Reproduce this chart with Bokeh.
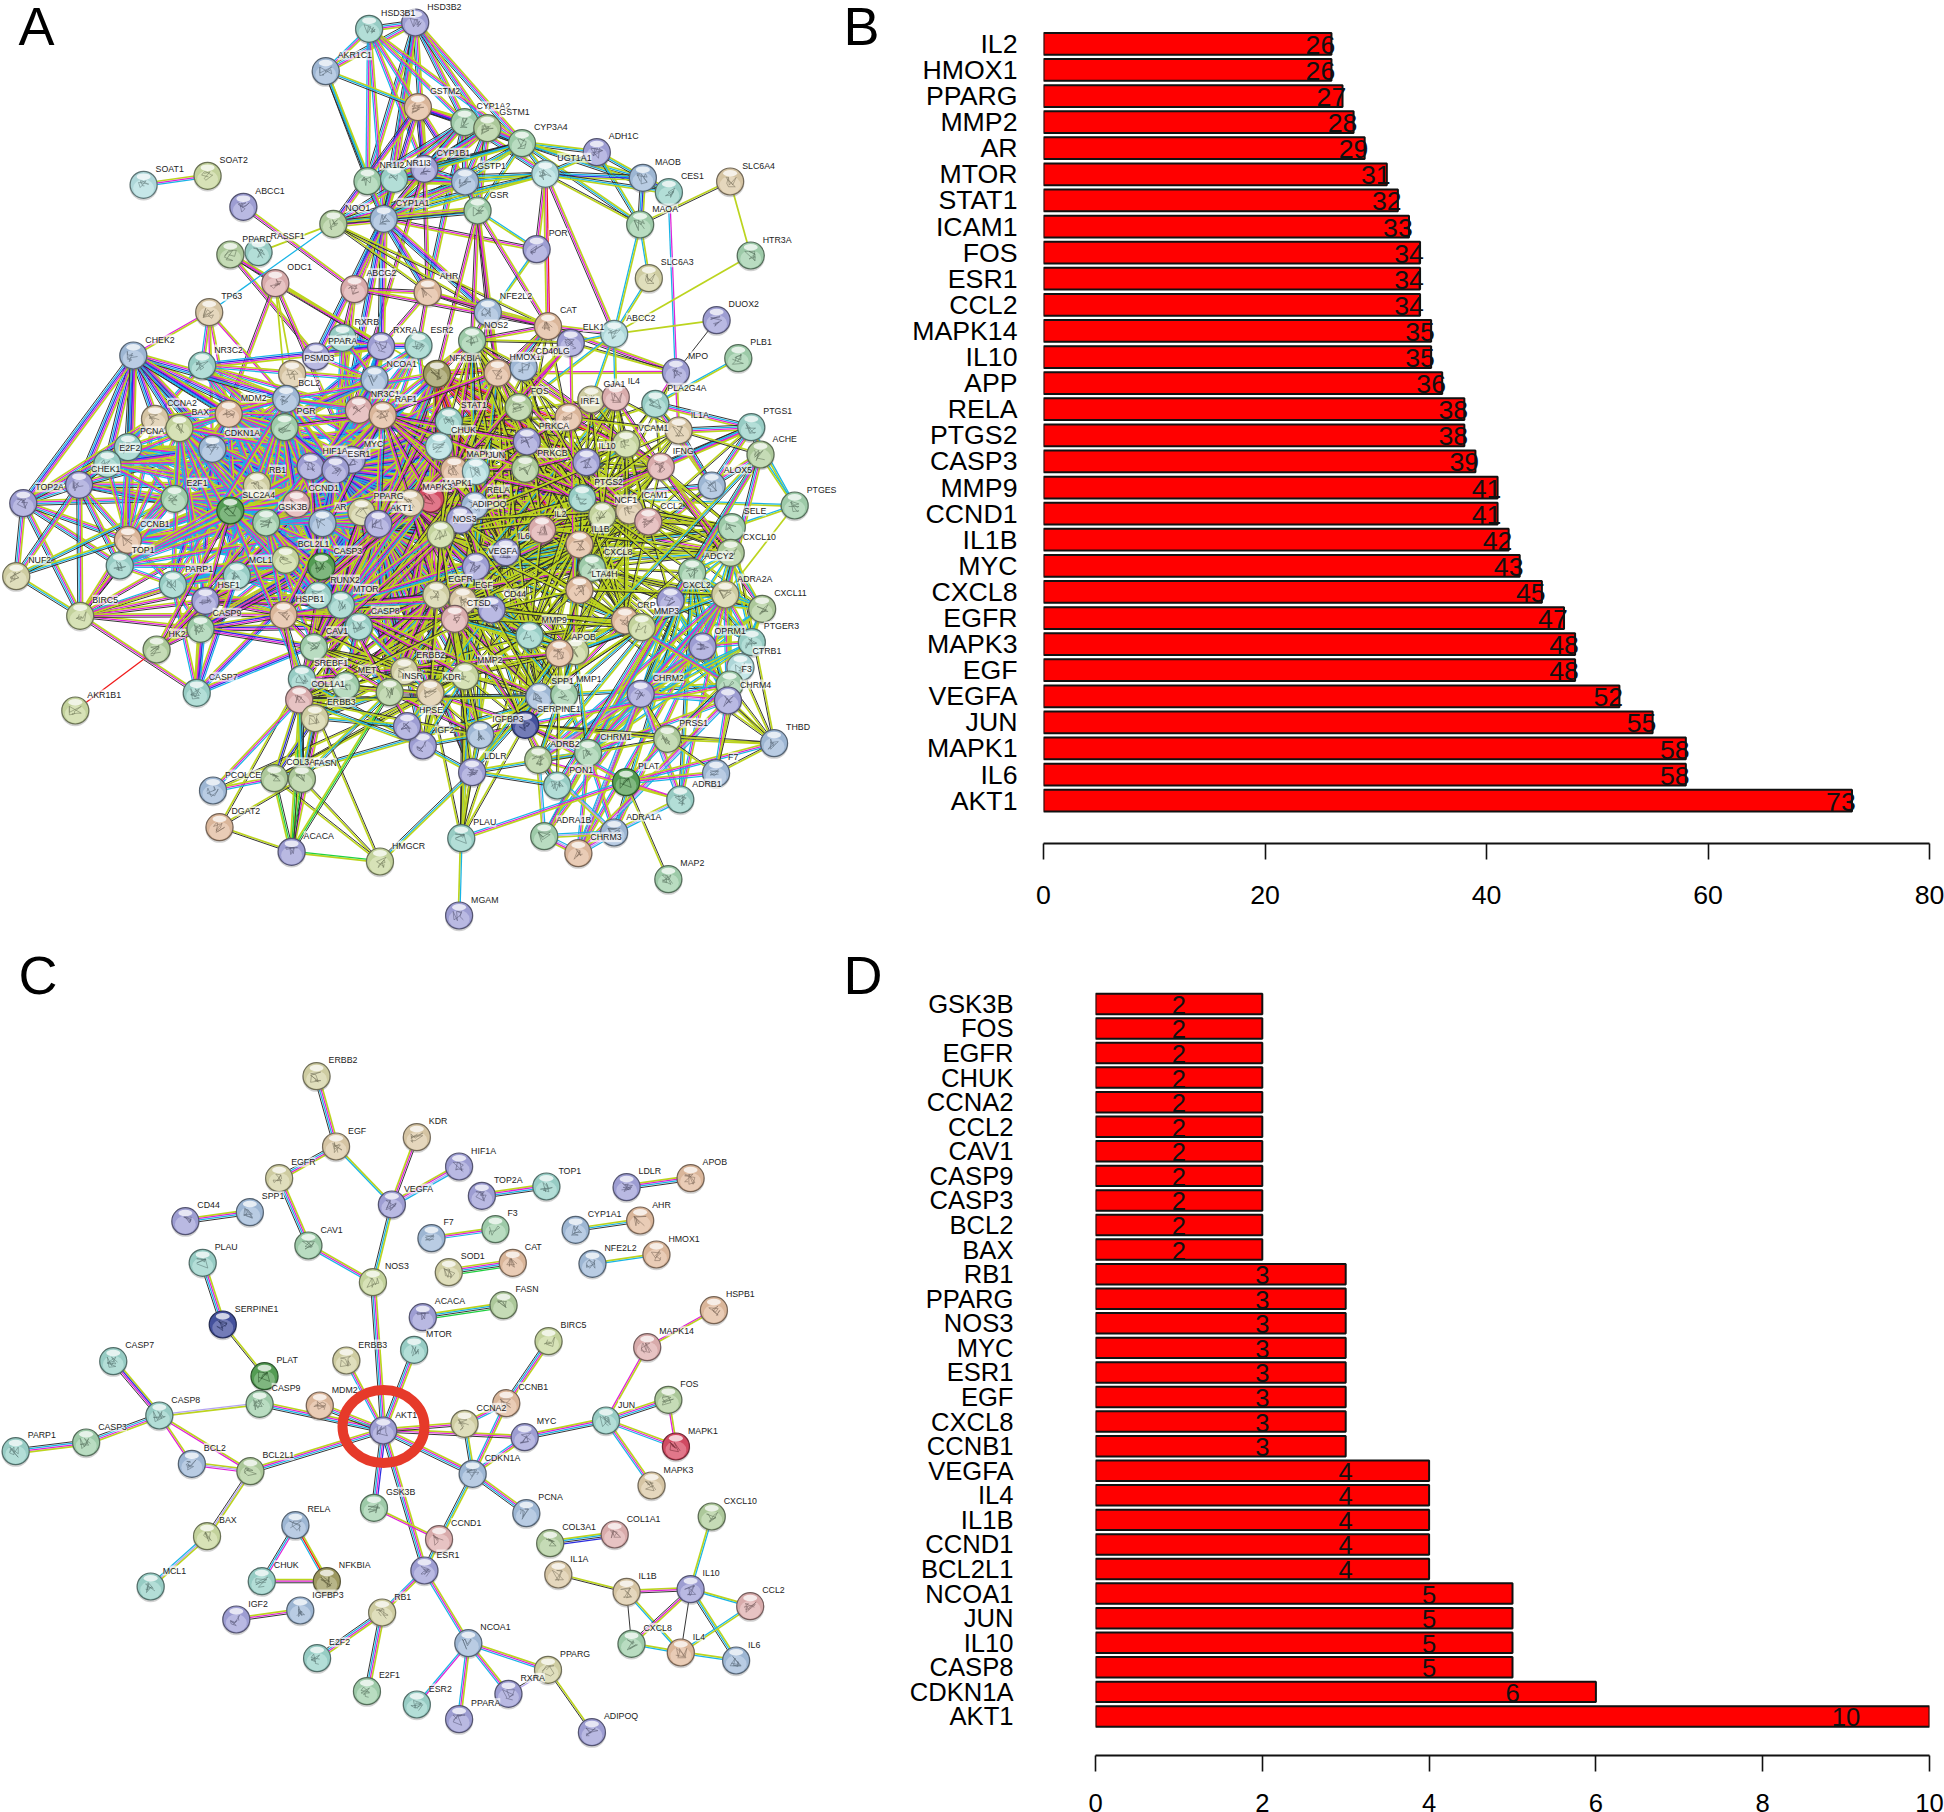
from bokeh.plotting import figure
from bokeh.models import Range1d, FixedTicker, GlobalInlineStyleSheet, Label, Pane
from bokeh.embed import file_html
from bokeh.resources import INLINE
from bokeh.core.properties import value

FONT = "Liberation Sans"

B_GENES = ["IL2","HMOX1","PPARG","MMP2","AR","MTOR","STAT1","ICAM1","FOS","ESR1","CCL2","MAPK14","IL10","APP","RELA",
           "PTGS2","CASP3","MMP9","CCND1","IL1B","MYC","CXCL8","EGFR","MAPK3","EGF","VEGFA","JUN","MAPK1","IL6","AKT1"]
B_VALUES = [26,26,27,28,29,31,32,33,34,34,34,35,35,36,38,38,39,41,41,42,43,45,47,48,48,52,55,58,58,73]
B_TICKS = [0,20,40,60,80]

D_GENES = ["GSK3B","FOS","EGFR","CHUK","CCNA2","CCL2","CAV1","CASP9","CASP3","BCL2","BAX","RB1","PPARG","NOS3","MYC",
           "ESR1","EGF","CXCL8","CCNB1","VEGFA","IL4","IL1B","CCND1","BCL2L1","NCOA1","JUN","IL10","CASP8","CDKN1A","AKT1"]
D_VALUES = [2,2,2,2,2,2,2,2,2,2,2,3,3,3,3,3,3,3,3,4,4,4,4,4,5,5,5,5,6,10]
D_TICKS = [0,2,4,6,8,10]

PALETTE = {"t":"#a3dcd3","b":"#a9c4e3","p":"#a9a9e2","g":"#a9dab5","o":"#b9d8a6","y":"#dedcae","n":"#e6d3b0",
           "k":"#e9b8b8","e":"#ebc4a6","q":"#bce8ea","d":"#4a58a8","G":"#5aa85a","R":"#e0506a","O":"#a8a468","w":"#d2e2a8"}
LINES = {"y":"#bcd41e","k":"#2a2a2a","m":"#e020d8","c":"#18b4e6","b":"#2c2ce0","g":"#20d040","r":"#f01818","l":"#b4a4f0"}
LINE_WIDTHS = {"y":1.7,"k":0.95}

# network A: name, position, colour key
A_UPPER = [("HSD3B1",680,85,"t"),("HSD3B2",765,66,"p"),("AKR1C1",600,212,"b"),("GSTM2",770,320,"e"),("CYP1A2",856,365,"g"),
 ("GSTM1",898,383,"o"),("CYP3A4",962,428,"g"),("ADH1C",1100,455,"p"),("MAOB",1185,532,"b"),("CES1",1233,575,"t"),
 ("MAOA",1180,672,"g"),("SLC6A4",1346,543,"n"),("HTR3A",1384,765,"g"),("SLC6A3",1196,833,"y"),("SOAT1",264,553,"q"),
 ("SOAT2",382,526,"w"),("ABCC1",448,619,"p"),("UGT1A1",1005,520,"q"),("NR1I2",677,542,"g"),("NR1I3",726,535,"t"),
 ("CYP1B1",782,505,"p"),("GSTP1",857,543,"b"),("CYP1A1",707,655,"b"),("GSR",880,630,"g"),("NQO1",614,670,"o"),
 ("POR",989,746,"p"),("PPARD",424,762,"o"),("RASSF1",476,755,"t"),("ODC1",507,848,"k"),("ABCG2",653,866,"k"),
 ("AHR",788,875,"e"),("NFE2L2",899,935,"b"),("CAT",1010,977,"e"),("ELK1",1052,1027,"p"),("ABCC2",1132,1000,"q"),
 ("DUOX2",1321,959,"p"),("PLB1",1361,1073,"g"),("MPO",1246,1115,"p"),("TP63",385,935,"n"),("CHEK2",245,1065,"b"),
 ("NR3C2",372,1095,"t"),("RXRB",631,1012,"t"),("RXRA",702,1037,"p"),("ESR2",771,1035,"t"),("NOS2",870,1020,"g"),
 ("PPARA",582,1068,"p"),("PSMD3",538,1120,"n"),("NCOA1",690,1137,"b"),("NFKBIA",805,1120,"O"),("HMOX1",917,1117,"e"),
 ("CD40LG",965,1100,"b"),("FOS",956,1220,"o"),("IRF1",1048,1250,"e"),("GJA1",1090,1197,"y"),("IL4",1135,1190,"k"),
 ("PLA2G4A",1208,1210,"t"),("IL1A",1251,1290,"n"),("PTGS1",1385,1280,"t"),("ACHE",1402,1362,"o"),("NR3C1",661,1228,"k"),
 ("RAF1",705,1244,"e"),("BCL2",527,1195,"b"),("MDM2",421,1240,"e"),("CCNA2",285,1255,"n"),("BAX",330,1283,"w"),
 ("PGR",524,1280,"g"),("PCNA",235,1340,"t"),("CDKN1A",391,1345,"b"),("E2F2",197,1390,"t"),("STAT1",827,1262,"t"),
 ("CHUK",809,1337,"q"),("PRKCA",971,1323,"p"),("VCAM1",1154,1330,"w"),("IFNG",1218,1398,"k"),("IL10",1081,1385,"p"),
 ("PRKCB",968,1405,"o"),("MAPK14",837,1408,"e"),("JUN",877,1412,"q"),("MYC",648,1378,"p"),("HIF1A",572,1398,"p"),
 ("ESR1",618,1408,"p")]
A_LOWER = [("CHEK1",145,73,"p"),("RB1",473,75,"y"),("ALOX5",1312,75,"b"),("TOP2A",42,128,"p"),("E2F1",321,115,"g"),
 ("SLC2A4",424,150,"G"),("CCND1",546,130,"k"),("GSK3B",490,186,"g"),("MAPK1",793,115,"R"),("MAPK3",756,127,"n"),
 ("PPARG",666,155,"y"),("AR",594,188,"b"),("AKT1",697,190,"p"),("RELA",875,135,"b"),("ADIPOQ",848,178,"p"),
 ("NOS3",812,222,"w"),("PTGS2",1073,113,"t"),("NCF1",1110,165,"w"),("ICAM1",1160,150,"n"),("CCL2",1195,183,"k"),
 ("SELE",1349,200,"g"),("PTGES",1465,135,"g"),("CXCL10",1347,277,"o"),("IL2",999,207,"k"),("IL1B",1068,252,"e"),
 ("IL6",932,275,"p"),("VEGFA",877,318,"p"),("CXCL8",1091,322,"g"),("LTA4H",1068,388,"e"),("ADCY2",1276,335,"g"),
 ("ADRA2A",1337,402,"y"),("CXCL2",1236,420,"p"),("CXCL11",1405,445,"o"),("CRP",1152,480,"e"),("MMP3",1183,500,"w"),
 ("PTGER3",1386,545,"t"),("OPRM1",1295,558,"p"),("CTRB1",1365,620,"q"),("F3",1345,672,"g"),("CHRM4",1342,720,"p"),
 ("CHRM2",1181,700,"p"),("PRSS1",1230,835,"o"),("THBD",1427,848,"b"),("F7",1320,938,"b"),("ADRB1",1254,1017,"t"),
 ("PLAT",1154,965,"G"),("ADRA1A",1132,1116,"b"),("CHRM3",1066,1178,"e"),("ADRA1B",1003,1127,"g"),("PON1",1027,975,"t"),
 ("CHRM1",1084,877,"g"),("ADRB2",992,898,"o"),("MAP2",1232,1256,"g"),("MGAM",846,1365,"p"),("PLAU",850,1133,"t"),
 ("HMGCR",700,1203,"w"),("ACACA",537,1174,"p"),("DGAT2",404,1100,"e"),("PCOLCE",392,990,"b"),("COL3A1",505,953,"o"),
 ("FASN",556,955,"o"),("LDLR",870,935,"p"),("IGF2",779,855,"p"),("HPSE",750,797,"p"),("IGFBP3",885,823,"b"),
 ("SERPINE1",968,793,"d"),("SPP1",994,708,"b"),("MMP1",1040,703,"g"),("KDR",793,697,"n"),("MMP2",857,647,"w"),
 ("ERBB2",745,632,"y"),("INSR",718,695,"o"),("MET",637,675,"g"),("SREBF1",556,655,"t"),("COL1A1",551,717,"k"),
 ("ERBB3",580,773,"y"),("CAV1",578,560,"g"),("MTOR",628,433,"t"),("CASP8",661,498,"t"),("RUNX2",586,405,"t"),
 ("HSPB1",522,463,"e"),("CASP3",592,318,"G"),("BCL2L1",526,298,"w"),("MCL1",436,345,"t"),("PARP1",318,372,"t"),
 ("HSF1",378,421,"p"),("CASP9",369,505,"g"),("HK2",288,567,"o"),("CASP7",362,697,"t"),("AKR1B1",138,750,"w"),
 ("BIRC5",147,466,"w"),("NUF2",29,347,"y"),("TOP1",220,315,"t"),("CCNB1",235,238,"e"),("EGFR",804,403,"y"),
 ("EGF",853,420,"n"),("CTSD",838,475,"k"),("CD44",906,447,"p"),("MMP9",976,525,"t"),("APP",1060,572,"w"),("APOB",1031,578,"e")]
A_HIDDEN_LABELS = ["APP"]

A_EDGES = [
 ("HSD3B2","ymck","HSD3B1 AKR1C1 CYP1A2 CYP3A4 NR1I2 NR1I3 CYP1B1 CYP1A1 GSTM1"),
 ("HSD3B1","ymc","AKR1C1 CYP3A4 CYP1A2 NR1I2 CYP1A1 CYP1B1 GSTM2"),
 ("AKR1C1","yck","GSTM2 NR1I2 CYP1A1"),
 ("GSTM2","ymbk","CYP1A2 GSTM1 CYP3A4 CYP1B1 CYP1A1 GSTP1 NQO1"),
 ("CYP1A2","ymck","GSTM1 CYP3A4 CYP1B1 NR1I2 NR1I3 GSTP1 CYP1A1 UGT1A1 AHR"),
 ("GSTM1","ymck","CYP3A4 CYP1B1 GSTP1 CYP1A1 NQO1 GSR"),
 ("CYP3A4","yck","ADH1C MAOB CES1 UGT1A1 GSTP1 CYP1B1 NR1I2 NR1I3 CYP1A1 MAOA GSR"),
 ("ADH1C","yck","MAOB MAOA UGT1A1"),("MAOB","ybck","MAOA CES1 UGT1A1"),("CES1","yck","UGT1A1"),("CES1","mc","MPO"),
 ("MAOA","yk","SLC6A4 UGT1A1"),("MAOA","yc","ABCC2 SLC6A3"),("SLC6A4","y","HTR3A"),("HTR3A","y","ABCC2"),("SLC6A3","yc","ABCC2"),
 ("UGT1A1","yck","GSTP1 CYP1A1 NR1I3 NQO1"),("UGT1A1","ymk","ABCC2 POR"),("UGT1A1","rmy","CAT"),
 ("POR","ymk","CYP1A1"),("POR","yc","NOS2 GSR"),
 ("GSTP1","ymck","CYP1A1 NQO1 GSR NR1I2 NR1I3 CYP1B1"),("NR1I2","ymck","NR1I3 CYP1A1 CYP1B1"),("NR1I3","ymck","CYP1A1 CYP1B1"),
 ("CYP1B1","ymk","CYP1A1 AHR ESR1"),
 ("CYP1A1","ymbck","NQO1 GSR AHR RXRA ABCG2 ESR1 PPARA NFE2L2"),
 ("NQO1","yk","GSR AHR NFE2L2 CAT"),("GSR","ymk","CAT NFE2L2 NOS2 NFKBIA HMOX1"),
 ("NQO1","y","RASSF1"),("ABCC1","ymk","ABCG2"),("SOAT1","ymc","SOAT2"),
 ("PPARD","ymk","ODC1 RXRA PPARA"),("ODC1","ymk","MYC RXRA CDKN1A"),("ODC1","y","BCL2 PSMD3 NFKBIA"),
 ("TP63","c","NQO1"),("TP63","ym","CHEK2 BCL2 MDM2 CDKN1A"),("TP63","ymc","NR3C2"),("AHR","ymk","ABCG2 ESR2 RXRA NFE2L2 CYP1B1 CAT"),
 ("ABCG2","ymk","CAT ESR1 RXRB"),("NFE2L2","ymk","CAT HMOX1 NOS2 JUN"),("CAT","ymk","HMOX1 MPO NOS2 ABCC2 ELK1 CD40LG"),
 ("DUOX2","y","ABCC2"),("DUOX2","k","MPO"),("PLB1","yc","PLA2G4A"),("MPO","ym","HMOX1 PLA2G4A IL1A CAT"),("MPO","yk","NCF1 ELK1"),
 ("PTGS1","ymck","PLA2G4A ALOX5 PTGS2 ACHE IL1A IFNG"),("PTGES","yc","PTGS1 PTGS2 SELE ACHE"),("PTGES","y","ADRA2A"),
 ("ALOX5","ymck","PTGS2 LTA4H PLA2G4A IL1A ACHE"),("ABCC2","yc","ELK1 GJA1 IL4 FOS"),("PLA2G4A","yk","PTGS2 ALOX5 IL1A IFNG VCAM1 MAPK14"),
 ("RXRA","ymbc","RXRB PPARA PPARG ESR1 NCOA1 NR3C1 AR MYC PGR NR3C2 ESR2"),("RXRB","ymc","PPARA PPARG NCOA1 ESR1"),
 ("NR3C2","ymc","NR3C1 CCNA2 MDM2 BCL2 AR PGR ESR1 NCOA1 HIF1A"),
 ("NCOA1","ymc","ESR1 ESR2 AR PGR NR3C1 PPARG PPARA STAT1 MYC RELA"),("NR3C1","ymc","ESR1 AR PGR HSF1 RAF1 JUN STAT1 MYC"),
 ("ESR2","ymc","ESR1 AR PGR PPARG NOS3 NCOA1 CCND1"),
 ("CHEK2","ymbck","PCNA CDKN1A CCNA2 BAX E2F2 CHEK1 MDM2 MYC RB1 TOP2A CCNB1 BCL2 HIF1A"),
 ("TOP2A","ymck","CHEK1 TOP1 NUF2 BIRC5 CCNB1 E2F1 CCNA2 PCNA"),
 ("CHEK1","ymck","NUF2 BIRC5 CCNB1 E2F1 RB1 PCNA CCNA2 TOP1 CDKN1A E2F2 GSK3B"),
 ("NUF2","yck","BIRC5 CCNB1 E2F1"),("BIRC5","ymk","CCNB1 CASP3 CASP9 E2F1 TOP1 MYC HSF1 AKT1 HSPB1 CASP7"),
 ("CCNB1","ymc","E2F1 CCNA2 E2F2 PCNA CDKN1A RB1 MYC AKT1 TOP1 PARP1 GSK3B CCND1 MDM2 BAX CASP3 BCL2L1 MAPK1 MAPK3 ESR1 HIF1A AR PPARG"),
 ("CCNA2","ymc","E2F1 E2F2 PCNA CDKN1A RB1 MYC CCND1 MDM2 BAX BCL2 ESR1"),
 ("PCNA","ymc","E2F1 E2F2 CDKN1A RB1 MYC CCND1 MDM2 HIF1A TOP1 AKT1 ESR1 AR CASP3 GSK3B"),
 ("CDKN1A","ymbc","E2F1 E2F2 RB1 MYC CCND1 MDM2 BAX BCL2 ESR1 AR GSK3B CASP3 CASP9 STAT1 HIF1A NCOA1 BCL2L1 MCL1 PARP1 AKT1 MAPK1 MAPK3 JUN MAPK14 RELA PPARG MTOR"),
 ("E2F2","ymc","E2F1 RB1 MYC CCND1 MDM2"),("E2F1","ymc","RB1 MYC CCND1 MDM2 CASP3 BCL2 AKT1 BAX AR ESR1 HIF1A GSK3B MAPK1 MAPK3 JUN PPARG MTOR"),
 ("RB1","ymc","MYC CCND1 MDM2 BAX BCL2 AR ESR1 HIF1A GSK3B CASP3 SLC2A4 MAPK1 BCL2L1 AKT1 MAPK3 JUN RELA PPARG"),
 ("MDM2","ymc","BAX BCL2 MYC AKT1 ESR1 AR GSK3B HIF1A CASP3 CCND1 BCL2L1 MCL1 PGR MAPK1 MAPK3 JUN RELA EGFR STAT1 MTOR PPARG"),
 ("BAX","ymc","BCL2 BCL2L1 MCL1 CASP3 CASP9 CASP8 PARP1 MYC AKT1 HSF1 HSPB1"),
 ("BCL2","ymc","BCL2L1 MCL1 CASP3 CASP9 CASP8 PARP1 MYC AKT1 ESR1 HIF1A GSK3B RAF1 PGR NFKBIA STAT1 RELA"),
 ("BCL2L1","ymc","MCL1 CASP3 CASP9 CASP8 PARP1 MYC AKT1 HSPB1 HSF1 STAT1 GSK3B MAPK1 MAPK3 JUN MAPK14 RELA EGFR PPARG"),
 ("MCL1","ymc","CASP3 CASP9 CASP8 PARP1 GSK3B MTOR HK2 HSF1 MYC MAPK1 MAPK3 JUN AKT1 EGFR"),
 ("PARP1","ymc","CASP3 CASP9 CASP8 CASP7 HSF1 TOP1 BIRC5 HSPB1 AKT1 MYC MAPK1 MAPK3 JUN BCL2L1"),
 ("TOP1","ymc","MYC RB1 E2F1 CASP3 AKT1 CCND1 ESR1 HIF1A"),
 ("HSF1","ymk","HSPB1 MTOR AKT1 MYC RUNX2 SLC2A4"),("HK2","r","AKR1B1"),("HK2","ymk","HIF1A AKT1 MYC MCL1 SLC2A4 CASP9"),
 ("CASP7","ymbc","CASP3 CASP9 CASP8 MCL1 PARP1 HSF1"),("CASP9","ybmk","CASP3 CASP8 AKT1 HSPB1 BIRC5 CAV1"),
 ("CASP3","ymbc","CASP8 HSPB1 GSK3B MTOR MYC AKT1 CCND1 HIF1A ESR1 RUNX2 MAPK1 MAPK3 MAPK14 JUN RELA EGFR STAT1 PPARG NFKBIA VEGFA EGF"),
 ("CASP8","ymk","HSPB1 CAV1 RELA NFKBIA CHUK MAPK1 AKT1 MYC"),
 ("SLC2A4","ymc","AKT1 PPARG INSR MTOR SREBF1 HIF1A GSK3B RUNX2 MAPK1 MAPK14 MAPK3 JUN RELA"),
 ("CCND1","ymbc","MYC AKT1 ESR1 GSK3B AR HIF1A PPARG NCOA1 MAPK3 RAF1 STAT1 RELA EGFR MTOR ERBB2 PGR JUN FOS"),
 ("MYC","ymc","AKT1 ESR1 AR HIF1A GSK3B RAF1 RELA STAT1 EGFR MTOR FOS JUN ERBB2 PPARG MAPK14 PTGS2 NFKBIA CHUK VEGFA IL6 IL1B PRKCA"),
 ("HIF1A","ymc","ESR1 AKT1 MTOR GSK3B STAT1 NOS2 NOS3 VEGFA MAPK14 HMOX1 RELA KDR MAPK1 MAPK3 JUN EGFR EGF IL6 CXCL8 PTGS2"),
 ("ESR1","ymbc","AR PGR PPARG GSK3B STAT1 RELA FOS EGFR ERBB2 MAPK14 MAPK3 MAPK1 NOS3 IL6 PRKCA RAF1 CAV1 JUN EGF VEGFA CXCL8 IL1B PTGS2 NFKBIA"),
 ("AR","ymc","PGR PPARG GSK3B STAT1 EGFR ERBB2 MTOR FOS MAPK14 CAV1 AKT1 MAPK1 MAPK3 JUN RELA IL6"),
 ("GSK3B","ymc","AKT1 MTOR PPARG MAPK3 CAV1 RUNX2 HSPB1 INSR RELA EGFR MAPK1 JUN"),
 ("PPARG","ymk","AKT1 MAPK3 RELA ADIPOQ NOS3 SREBF1 FASN INSR ACACA PTGS2 IL6 LDLR CAV1 HMOX1 MMP9"),
 ("AKT1","ymck","EGFR MAPK1 MAPK3 MTOR RAF1 NOS3 VEGFA STAT1 RELA IL6 NFKBIA CHUK KDR EGF ERBB2 ERBB3 INSR MET FOS JUN MMP9 MMP2 PTGS2 CXCL8 IL1B HMOX1 PRKCA PRKCB HSPB1 CAV1 CAT IL10 ICAM1 CCL2 CTSD COL1A1 SPP1 IGF2 IGFBP3 SERPINE1 LDLR IL2 IL4 SREBF1 ADIPOQ"),
 ("MAPK1","ymk","JUN FOS MAPK3 MAPK14 EGFR EGF RELA STAT1 ELK1 RAF1 PRKCA PRKCB MMP9 MMP2 PTGS2 VEGFA KDR ERBB2 INSR IL6 IL1B CXCL8 ICAM1 HSPB1 CAV1 NCF1 NFKBIA CHUK SPP1 APP MET"),
 ("MAPK3","ymk","FOS MAPK14 RAF1 RELA ELK1 MMP9 MMP2 IL6 IL1B CXCL8 EGFR EGF VEGFA JUN PTGS2 STAT1 PRKCA PRKCB ICAM1 NOS3 HSPB1 APP CAV1"),
 ("JUN","yk","FOS MAPK14 IL6 IL1B IL2 IL10 CXCL8 MMP1 MMP3 MMP9 MMP2 PTGS2 VEGFA EGF EGFR ICAM1 VCAM1 CCL2 RELA NFKBIA STAT1 SELE HMOX1 PRKCA PRKCB IFNG IL4 CRP APP NOS2 COL1A1 SPP1 GJA1"),
 ("FOS","yk","IL6 IL1B IL2 CXCL8 MMP1 MMP3 MMP9 PTGS2 VEGFA EGF ICAM1 CCL2 STAT1 RELA NFKBIA PRKCA SPP1 COL1A1"),
 ("RELA","ymk","NFKBIA CHUK MAPK14 STAT1 IL6 IL1B CXCL8 ICAM1 VCAM1 SELE PTGS2 MMP9 NOS2 NOS3 CCL2 IL10 IL2 IL4 IFNG PRKCA HMOX1 CXCL10"),
 ("NFKBIA","ymrk","CHUK STAT1 IL6 IL1B ICAM1 VCAM1 PTGS2 NOS2 IL10 CD40LG"),("CHUK","ymk","STAT1 IL1B PTGS2 RAF1 PRKCA"),
 ("STAT1","yk","IL6 IL10 IFNG IL2 IL4 IRF1 ICAM1 VCAM1 CXCL10 NOS2 CCL2 PTGS2 VEGFA EGFR"),
 ("IL6","yk","CXCL8 IL1B IL10 VEGFA EGF MMP9 MMP2 CCL2 ICAM1 VCAM1 SELE IFNG IL2 IL4 IL1A HMOX1 PTGS2 CRP CXCL10 CXCL2 CXCL11 SPP1 SERPINE1 MMP1 MMP3 MAPK14 EGFR CAT NOS2 NOS3 IRF1 CTSD CD44 ADIPOQ PLAU LTA4H KDR NCF1 F3 THBD CD40LG"),
 ("VEGFA","yck","EGF EGFR KDR MMP2 MMP9 MMP1 NOS3 NOS2 IL1B CXCL8 CCL2 ICAM1 VCAM1 SELE SERPINE1 PLAU MET ERBB2 CXCL10 PTGS2 IGF2 IGFBP3 COL1A1 SPP1 CD44 CAV1 IL2 IL4 IFNG CRP HMOX1 MTOR CTSD"),
 ("EGF","yk","EGFR ERBB2 ERBB3 INSR MET KDR MMP2 MMP9 MMP1 MMP3 CXCL8 IL1B IFNG IL2 CCL2 SPP1 CD44 IGF2 IGFBP3 SERPINE1 PLAU HSPB1 COL1A1 APOB"),
 ("EGFR","ymk","ERBB2 ERBB3 MET INSR KDR CAV1 MMP9 MMP2 PTGS2 CD44 CTSD SPP1 HSPB1 NCF1 MTOR COL1A1 CXCL8"),
 ("CXCL8","yk","IL1B IL1A IL2 IL4 IL10 CCL2 CXCL10 CXCL2 CXCL11 ICAM1 VCAM1 SELE IFNG MMP1 MMP3 MMP9 PTGS2 CRP NCF1 LTA4H ALOX5 CD44 F3 PTGS1 THBD ADRA2A CD40LG IRF1 PTGER3 SPP1 OPRM1 ADCY2"),
 ("IL1B","yk","IL1A IL2 IL4 IL10 CCL2 ICAM1 VCAM1 SELE MMP1 MMP3 MMP9 PTGS2 NOS2 CRP IFNG CXCL10 CXCL2 SPP1 NCF1 CD44 LTA4H COL1A1 MMP2 F3 CD40LG APP SERPINE1"),
 ("IL10","yk","IL2 IL4 IFNG CCL2 ICAM1 VCAM1 CXCL10 MMP9 PTGS2 HMOX1 CD40LG CRP IRF1"),
 ("MMP9","yk","MMP1 MMP2 MMP3 ICAM1 VCAM1 CCL2 PTGS2 SPP1 CD44 SERPINE1 PLAU COL1A1 COL3A1 CTSD IL2 IFNG APP CRP HMOX1 KDR"),
 ("MMP2","yk","MMP1 MMP3 SPP1 CD44 COL1A1 COL3A1 KDR ERBB2 PCOLCE SERPINE1 PLAU CTSD CAV1 APP IGFBP3"),
 ("MMP1","yck","MMP3 COL1A1 COL3A1 SPP1 CD44 CHRM1 PTGS2 F3 SERPINE1"),
 ("CCL2","yk","ICAM1 VCAM1 SELE CXCL10 CXCL2 CXCL11 IFNG IL2 IL4 PTGS2 CRP NCF1 SPP1 APOB LDLR"),
 ("ICAM1","yk","VCAM1 SELE CXCL10 IFNG IL2 IL4 CRP PTGS2 CD44 NCF1 APP"),("VCAM1","yk","SELE CXCL10 IFNG IL4 CRP NOS3"),
 ("SELE","yk","IFNG CRP F3 THBD PTGS2 CXCL10 CXCL2"),("IFNG","ymk","IL2 IL4 CXCL10 CXCL11 NOS2 IRF1 PTGS2 CD40LG"),
 ("IL2","yk","IL4 CD40LG PTGS2 NOS2 CXCL10 IRF1"),("PTGS2","yk","NOS2 NOS3 HMOX1 LTA4H ALOX5 CRP PTGER3 ADRA2A GJA1 PRKCA CAT"),
 ("CXCL10","yc","CXCL2 CXCL11 ADCY2 ADRA2A PTGER3 OPRM1 CHRM2 CHRM4"),("CXCL11","yc","CXCL2 ADCY2 ADRA2A PTGER3 OPRM1 F3 CHRM1 CHRM4 CHRM2"),
 ("CXCL2","yc","ADCY2 ADRA2A PTGER3 OPRM1 CHRM1 CHRM2 CHRM4 F3"),
 ("ADCY2","yck","ADRA2A PTGER3 OPRM1 CHRM1 CHRM2 CHRM3 CHRM4 ADRB1 ADRB2 ADRA1A ADRA1B"),
 ("ADRA2A","ymc","PTGER3 OPRM1 CHRM1 CHRM2 CHRM3 CHRM4 ADRB1 ADRB2 ADRA1A ADRA1B"),
 ("OPRM1","ymc","PTGER3 CHRM2 CHRM4 CHRM1 ADRB2"),("PTGER3","yc","CHRM1 CHRM2 CHRM4 ADRB2"),
 ("CHRM1","ymc","CHRM2 CHRM3 CHRM4 ADRA1A ADRA1B ADRB2 PON1 ACHE"),("CHRM2","ymlc","CHRM3 CHRM4 ADRB1 ADRB2"),("CHRM3","ymlc","CHRM4 ADRA1A ADRA1B"),
 ("ADRA1A","ylc","ADRA1B ADRB1 ADRB2"),("ADRA1B","ylc","ADRB2"),("ADRB1","ym","ADRB2 PLAT"),("ADRB2","yck","PON1 MMP1"),
 ("MAP2","yk","PLAT"),("MGAM","yc","PLAU"),("PLAU","yk","SERPINE1 LDLR KDR"),("PLAU","y","MMP9"),
 ("PLAT","ymc","SERPINE1 THBD F7 PRSS1 PLAU"),("THBD","yk","F3 F7 PRSS1 CTRB1 CHRM4 SERPINE1"),("F3","ymc","F7 CTRB1 PRSS1 SERPINE1 CRP"),
 ("F7","yk","PRSS1 CTRB1"),("PRSS1","yk","CTRB1 CHRM2 CHRM1 SERPINE1"),("SERPINE1","ymk","IGFBP3 PON1 KDR CRP CHRM1 SPP1 CTSD"),
 ("LDLR","yck","APOB SREBF1 PON1 CHRM1 HMGCR IGFBP3 SPP1"),("HMGCR","yk","FASN COL3A1 LDLR SREBF1"),("HMGCR","yg","ACACA"),("ACACA","ygk","FASN SREBF1 COL3A1 INSR"),
 ("DGAT2","yk","ACACA FASN SREBF1"),("PCOLCE","ymc","COL3A1 COL1A1"),("COL3A1","ybk","COL1A1 ERBB3"),("FASN","yck","SREBF1 COL1A1 INSR ERBB3"),
 ("SREBF1","ymk","INSR MTOR LDLR ADIPOQ APOB"),("ERBB2","yk","ERBB3 MET INSR KDR MTOR CAV1 HSPB1"),("ERBB3","yck","MET INSR HPSE HSPB1"),
 ("INSR","ymk","MET KDR IGF2 IGFBP3 MTOR CAV1 ADIPOQ"),("KDR","yk","MET IGF2 HPSE IGFBP3 CAV1"),("IGF2","yck","IGFBP3 HPSE COL1A1 MMP2"),("HPSE","yc","MMP2 CD44"),
 ("IGFBP3","yk","SPP1 CTSD MMP3 COL1A1"),("MTOR","ymc","RUNX2 CAV1 HSPB1 RELA MAPK1 MAPK3 EGF VEGFA IL6 KDR"),("RUNX2","ymk","SPP1 COL1A1 HIF1A MMP2"),("CAV1","ymk","NOS3 NOS2 HSPB1 MET"),
 ("HSPB1","ymk","CTSD MAPK14 RAF1 COL1A1"),("NOS3","yk","NOS2 CAT KDR HMOX1 ADIPOQ CRP ADRB2 LDLR ICAM1"),("NOS2","yk","CAT HMOX1 CRP ELK1 CD40LG IRF1 GSR"),
 ("MAPK14","ymk","HMOX1 PRKCA PRKCB HSPB1 RAF1 ELK1 NOS2 PTGS2 STAT1 CD44"),("PRKCA","ymk","PRKCB RAF1 HMOX1 NCF1 GJA1 NOS3 ICAM1"),("PRKCB","ymk","RAF1 NCF1 VCAM1 ICAM1"),
 ("RAF1","ymk","ELK1 RELA PRKCB PGR BCL2"),("HMOX1","ymk","CD40LG ICAM1 NOS3 IL10"),("ELK1","ym","FOS APP"),("GJA1","yk","PTGS2 IL4 VCAM1 NCF1"),
 ("APOB","yk","CRP CTSD ADIPOQ APP MMP3 PON1 LTA4H"),("APP","yck","CTSD CRP CD44 ADRB2 CHRM1 ACHE MMP3 ADRA2A"),("CRP","yk","ADIPOQ CD44 MMP3 LTA4H"),
 ("SPP1","yk","CD44 COL1A1 MMP3 CTSD"),("CD44","yk","COL1A1 CTSD MMP3 ADIPOQ"),("ADIPOQ","yk","IL1A NOS3 ICAM1"),("CTSD","yk","MMP3 LTA4H"),
 ("LTA4H","yk","NCF1 ADRA2A"),("NCF1","yk","IL4 CD40LG"),("IL1A","yk","ACHE IL4 IL2 IRF1"),("ACHE","ymck","PON1 ADRA2A"),("PON1","yc","LDLR"),
]

# network C
C_UPPER = [("ERBB2",583,377,"y"),("EGF",619,588,"n"),("KDR",768,560,"n"),("HIF1A",846,648,"p"),("EGFR",514,683,"y"),("VEGFA",722,762,"p"),
 ("TOP2A",888,736,"p"),("TOP1",1007,708,"t"),("LDLR",1155,710,"p"),("APOB",1273,683,"e"),("CD44",341,812,"p"),("SPP1",460,785,"b"),
 ("F7",795,863,"b"),("F3",913,836,"g"),("CYP1A1",1061,838,"b"),("AHR",1180,810,"e"),("CAV1",568,885,"g"),("PLAU",373,937,"t"),
 ("SOD1",827,965,"y"),("CAT",945,937,"e"),("NFE2L2",1092,940,"b"),("HMOX1",1210,912,"e"),("NOS3",687,995,"w"),("FASN",928,1064,"o"),
 ("ACACA",779,1100,"p"),("SERPINE1",410,1122,"d"),("HSPB1",1316,1079,"e"),("BIRC5",1011,1172,"w"),("MAPK14",1193,1190,"k"),
 ("MTOR",763,1198,"t"),("ERBB3",638,1230,"y"),("CASP7",208,1232,"t"),("PLAT",487,1277,"G")]
C_LOWER = [("CASP9",478,70,"g"),("MDM2",589,75,"e"),("CCNB1",933,68,"e"),("CCNA2",856,130,"y"),("FOS",1232,58,"o"),("JUN",1117,120,"t"),
 ("MYC",967,170,"p"),("MAPK1",1246,198,"R"),("CASP8",293,105,"t"),("AKT1",706,150,"p"),("CASP3",158,186,"g"),("PARP1",28,212,"t"),
 ("BCL2",353,250,"b"),("BCL2L1",461,272,"o"),("CDKN1A",871,280,"b"),("GSK3B",689,382,"g"),("MAPK3",1201,315,"n"),("PCNA",970,398,"b"),
 ("CCND1",809,476,"k"),("COL3A1",1014,488,"o"),("COL1A1",1133,462,"k"),("BAX",381,467,"w"),("RELA",544,434,"b"),("ESR1",782,570,"p"),
 ("CXCL10",1312,408,"o"),("IL1A",1029,582,"n"),("MCL1",277,618,"t"),("CHUK",482,602,"t"),("NFKBIA",602,602,"O"),("IGFBP3",553,690,"b"),
 ("IGF2",435,717,"p"),("RB1",704,696,"y"),("IL1B",1155,634,"n"),("IL10",1273,626,"p"),("CCL2",1383,677,"k"),("NCOA1",863,788,"b"),
 ("CXCL8",1164,790,"g"),("IL4",1255,816,"e"),("IL6",1357,840,"b"),("E2F2",584,833,"t"),("E2F1",676,932,"g"),("PPARG",1010,868,"y"),
 ("RXRA",937,940,"p"),("ESR2",768,972,"t"),("PPARA",846,1016,"p"),("ADIPOQ",1091,1055,"p")]
C_EDGES = [("ERBB2","ymck","EGF"),("EGF","ymck","EGFR"),("EGF","yc","VEGFA"),("VEGFA","ymk","KDR"),("VEGFA","ymlc","HIF1A"),("EGFR","ymck","CAV1"),
 ("CAV1","ymc","NOS3"),("VEGFA","yck","NOS3"),("NOS3","ymck","AKT1"),("TOP2A","ymck","TOP1"),("LDLR","ymck","APOB"),("CD44","ymck","SPP1"),
 ("F7","ymc","F3"),("CYP1A1","yck","AHR"),("SOD1","ymckg","CAT"),("NFE2L2","yc","HMOX1"),("PLAU","ymck","SERPINE1"),("SERPINE1","yk","PLAT"),
 ("ACACA","yckg","FASN"),("ERBB3","ymc","AKT1"),("MTOR","ymck","AKT1"),("BIRC5","ymck","CCNB1"),("HSPB1","ym","MAPK14"),("MAPK14","ym","JUN"),
 ("CASP7","ybmk","CASP8"),("CASP9","yl","CASP8"),("CASP9","ymck","AKT1"),("MDM2","ymck","AKT1"),("CCNA2","ymc","CCNB1"),("CCNA2","yck","CDKN1A"),
 ("CCNB1","ymc","CDKN1A"),("AKT1","ymck","CDKN1A"),("AKT1","ymk","MYC"),("AKT1","ymk","CCNA2"),("MYC","ymck","JUN"),("MYC","ymc","CDKN1A"),("JUN","ymck","FOS"),
 ("JUN","ymc","MAPK1"),("JUN","ymc","MAPK3"),("FOS","ym","MAPK1"),("CASP8","ymck","CASP3"),("CASP3","ymck","PARP1"),("CASP8","ym","BCL2"),("CASP8","ym","BCL2L1"),
 ("BCL2","ylm","BCL2L1"),("BCL2L1","ymck","AKT1"),("BCL2L1","ylk","BAX"),("BAX","ylc","MCL1"),("AKT1","bmck","GSK3B"),("AKT1","ymck","ESR1"),
 ("GSK3B","ym","CCND1"),("CDKN1A","yck","CCND1"),("CDKN1A","ymck","PCNA"),("CCND1","yck","ESR1"),("ESR1","ymc","RB1"),("ESR1","ymc","NCOA1"),
 ("RELA","mck","CHUK"),("RELA","yrc","NFKBIA"),("CHUK","ymk","NFKBIA"),("IGF2","ymk","IGFBP3"),("COL3A1","yckb","COL1A1"),("RB1","ymck","E2F2"),("RB1","ymck","E2F1"),
 ("NCOA1","ymc","PPARG"),("NCOA1","ymc","RXRA"),("NCOA1","mc","ESR2"),("NCOA1","ymc","PPARA"),("PPARG","lk","RXRA"),("PPARG","yk","ADIPOQ"),("IL1A","yk","IL1B"),
 ("IL1B","ymk","IL10"),("IL1B","k","CXCL8"),("IL1B","yc","IL4"),("IL10","yc","CXCL10"),("IL10","yc","CCL2"),("IL10","ymk","CXCL8"),("IL10","k","IL4"),
 ("IL10","yck","IL6"),("CCL2","yc","IL4"),("CXCL8","yc","IL4"),("IL4","yc","IL6")]

# the circle round AKT1 in panel C
C_RING = dict(x=383, y=1426, w=82, h=73)

ZX = 850 / 1568

def place(upper, lower, y_top_lower, y_top_upper=0):
    out = {}
    order = []
    for n, x, y, c in upper:
        out[n] = (x * ZX, y_top_upper + y / 3, c); order.append(n)
    for n, x, y, c in lower:
        out[n] = (x * ZX, y_top_lower + y / 3, c); order.append(n)
    return out, order

def shade(hexc, f):
    r, g, b = int(hexc[1:3], 16), int(hexc[3:5], 16), int(hexc[5:7], 16)
    if f < 1:
        r, g, b = r * f, g * f, b * f
    else:
        t = f - 1
        r, g, b = r + (255 - r) * t, g + (255 - g) * t, b + (255 - b) * t
    return "#%02x%02x%02x" % (int(r), int(g), int(b))

def squiggle(name, x, y):
    s = (name * 4)[:11]
    px = [x + (ord(ch) * (k + 3) * 7 % 15 - 7) * 0.85 for k, ch in enumerate(s)]
    py = [y + 1 + (ord(ch) * (k + 5) * 11 % 13 - 6) * 0.85 for k, ch in enumerate(s)]
    return px, py

def network(p, nodes, order, edges, hidden=()):
    xs, ys, cols, wids, seen = [], [], [], [], set()
    for src, bundle, targets in edges:
        for t in targets.split():
            key = frozenset((src, t))
            if key in seen:
                continue
            seen.add(key)
            x0, y0, _ = nodes[src]
            x1, y1, _ = nodes[t]
            d = max(((x1 - x0) ** 2 + (y1 - y0) ** 2) ** 0.5, 1)
            nx, ny = -(y1 - y0) / d, (x1 - x0) / d
            n = len(bundle)
            for i, ch in enumerate(bundle):
                o = (i - (n - 1) / 2) * 1.6
                xs.append([x0 + nx * o, x1 + nx * o])
                ys.append([y0 + ny * o, y1 + ny * o])
                cols.append(LINES[ch])
                wids.append(LINE_WIDTHS.get(ch, 1.25))
    p.multi_line(xs, ys, line_color=cols, line_width=wids)
    for n in order:
        x, y, key = nodes[n]
        c = PALETTE[key]
        p.ellipse([x], [y + 1.4], width=28.5, height=28.5, fill_color="#666666", fill_alpha=0.3, line_color=None)
        p.ellipse([x], [y], width=27, height=27, fill_color=shade(c, 0.93), line_color=shade(c, 0.5), line_width=1.2)
        p.ellipse([x], [y + 3.5], width=21, height=18, fill_color=shade(c, 1.4), fill_alpha=0.6, line_color=None)
        p.ellipse([x], [y - 8.2], width=14, height=6.5, fill_color="white", fill_alpha=0.75, line_color=None)
        px, py = squiggle(n, x, y)
        p.line(px, py, line_color=shade(c, 0.55), line_width=0.7, line_alpha=0.8)
    lab = [n for n in order if n not in hidden]
    p.text([nodes[n][0] + 12 for n in lab], [nodes[n][1] - 16 for n in lab], text=lab,
           text_font=value(FONT), text_font_size="8.8px", text_color="#222222", text_align="left", text_baseline="middle",
           background_fill_color="white", background_fill_alpha=0.65)

def net_figure(w, h, y0, y1):
    p = figure(width=w, height=h, x_range=Range1d(0, w), y_range=Range1d(y1, y0), x_axis_type=None, y_axis_type=None,
               toolbar_location=None, output_backend="svg", min_border=0, outline_line_color=None)
    p.grid.visible = False
    return p

def letter(p, ch, x, y):
    # x, y: left end and baseline, measured from the frame's lower left corner
    p.add_layout(Label(x=x, y=y, x_units="screen", y_units="screen", text=ch, text_font=FONT, text_font_size="54px",
                       text_color="black", text_align="left", text_baseline="alphabetic"))

def bars(w, h, genes, vals, ticks, left, bottom, y_start, y_end, standoff_y, standoff_x, fs, fsv):
    p = figure(width=w, height=h, x_range=Range1d(ticks[0], ticks[-1]), y_range=Range1d(y_start, y_end),
               toolbar_location=None, output_backend="svg", min_border_left=left, min_border_right=15,
               min_border_top=0, min_border_bottom=bottom, outline_line_color=None)
    p.grid.visible = False
    idx = list(range(len(genes)))
    p.hbar(y=idx, right=vals, left=0, height=1 / 1.2, fill_color="#ff0000", line_color="#111111", line_width=2)
    p.text([v - 1 for v in vals], [i + 0.04 for i in idx], text=[str(v) for v in vals], text_font=value(FONT),
           text_font_size=fsv, text_color="#111111", text_align="center", text_baseline="middle")
    ax = p.xaxis[0]
    ax.ticker = FixedTicker(ticks=ticks)
    ax.minor_tick_line_color = None
    ax.major_tick_in = 0
    ax.major_tick_out = 16
    ax.major_tick_line_color = "#111111"
    ax.major_tick_line_width = 1.6
    ax.axis_line_color = "#111111"
    ax.axis_line_width = 1.8
    ax.major_label_text_font = FONT
    ax.major_label_text_font_size = fs
    ax.major_label_text_color = "black"
    ax.major_label_standoff = standoff_x
    ay = p.yaxis[0]
    ay.ticker = FixedTicker(ticks=idx)
    ay.major_label_overrides = {i: g for i, g in zip(idx, genes)}
    ay.axis_line_color = None
    ay.major_tick_line_color = None
    ay.minor_tick_line_color = None
    ay.major_tick_in = 0
    ay.major_tick_out = 0
    ay.major_label_text_font = FONT
    ay.major_label_text_font_size = fs
    ay.major_label_text_color = "black"
    ay.major_label_standoff = standoff_y
    return p

nodes_a, order_a = place(A_UPPER, A_LOWER, 460)
nodes_c, order_c = place(C_UPPER, C_LOWER, 1380, 950)

pa = net_figure(895, 940, 0, 940)
network(pa, nodes_a, order_a, A_EDGES, A_HIDDEN_LABELS)
letter(pa, "A", 18, 915)
letter(pa, "B", 843, 915)

pb = bars(1049, 940, B_GENES, B_VALUES, B_TICKS, 148, 97, 30.64, -1.66, 26, 26, "26.7px", "26.7px")

pc = net_figure(895, 872, 940, 1812)
network(pc, nodes_c, order_c, C_EDGES)
pc.ellipse([C_RING["x"]], [C_RING["y"]], width=C_RING["w"], height=C_RING["h"], fill_color=None, line_color="#e63a2a", line_width=10)
letter(pc, "C", 18, 838)
letter(pc, "D", 843, 838)

pd = bars(1049, 884, D_GENES, D_VALUES, D_TICKS, 200, 69, 30.59, -2.58, 82, 22, "25.6px", "25.6px")

root = Pane(elements=[pa, pb, pc, pd],
            styles={"display": "grid", "grid-template-columns": "895px 1049px", "grid-template-rows": "940px 872px"})
root.stylesheets = [GlobalInlineStyleSheet(css="html,body{margin:0;padding:0;overflow:hidden}")]
open("out.html", "w").write(file_html(root, INLINE))
